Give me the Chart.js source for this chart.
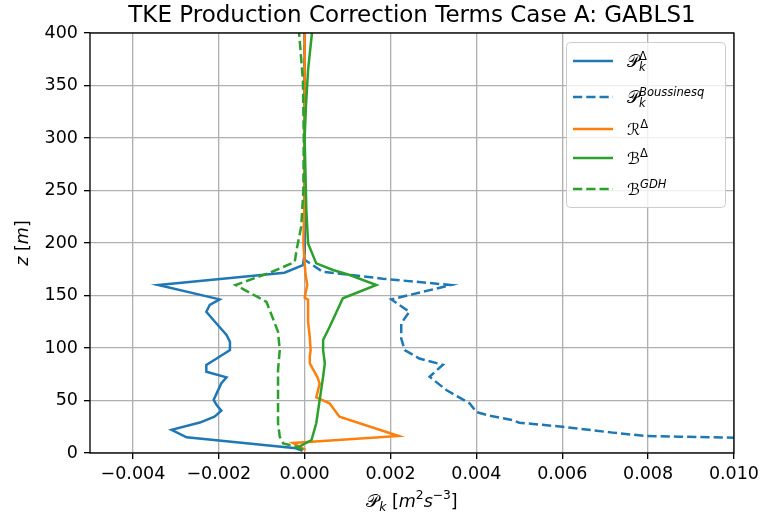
<!DOCTYPE html>
<html>
<head>
<meta charset="utf-8">
<script src="https://cdn.jsdelivr.net/npm/chart.js@4.4.1/dist/chart.umd.min.js"></script>
<style>
  html, body { margin: 0; padding: 0; background: #fff; }
  #wrap { width: 764px; height: 517px; position: relative; }
</style>
</head>
<body>
<div id="wrap"><canvas id="c"></canvas></div>
<script>
// --- datos (z en m, P en m^2 s^-3) ---
const zPDelta = [2, 4.5, 15, 22, 29, 34.6, 40.3, 45.7, 50.5, 56.8, 66.4, 72, 77.4, 83.8, 90, 98, 106, 112.4, 125, 134.5, 141, 146.3, 160, 171.7, 179, 190, 250, 300, 350, 400];
const pDelta  = [-0.00005, -0.0002, -0.00275, -0.0031, -0.00244, -0.0021, -0.00194, -0.00205, -0.00212, -0.00205, -0.00194, -0.00182, -0.00229, -0.00229, -0.00205, -0.00174, -0.00174, -0.00182, -0.00209, -0.00229, -0.00221, -0.00198, -0.00341, -0.00047, -0.00004, 0, 0, 0, 0, 0];

const zPBous = [14.6, 15.5, 16.2, 19.4, 25, 28.9, 31.4, 35.5, 39, 47.3, 60, 72.6, 84, 90, 98, 109, 123.5, 134.5, 146.3, 160, 166, 172.6, 184, 250, 300, 350, 400];
const pBous  = [0.01005, 0.00872, 0.00795, 0.00717, 0.006, 0.005, 0.00484, 0.0043, 0.004, 0.00384, 0.0033, 0.00291, 0.00322, 0.00267, 0.00233, 0.00225, 0.00225, 0.00244, 0.00202, 0.00341, 0.00182, 0.00042, 0.00000, 0, 0, 0, 0];

const zRDelta = [3, 9.5, 16.2, 34.6, 47.3, 53, 66, 72, 85.4, 92, 98, 110, 125, 146, 148, 160, 170, 181, 200, 250, 300, 350, 400];
const rDelta  = [0.00002, -0.00027, 0.00219, 0.00081, 0.00058, 0.00027, 0.00035, 0.0003, 0.00012, 0.00012, 0.00014, 0.00012, 0.00008, 0.00008, 0.0, 0.00006, 0.00002, 0, -0.00003, 0, 0, 0, 0];

const zBDelta = [4.5, 12.4, 28.3, 50.5, 72.6, 85.4, 98, 107.6, 120, 147.3, 160, 169.5, 174.3, 180.6, 199.6, 231, 300, 330, 365, 400];
const bDelta  = [-0.0002, 0.00016, 0.00027, 0.00035, 0.00043, 0.00047, 0.00043, 0.00043, 0.00058, 0.00089, 0.00167, 0.00105, 0.00066, 0.00027, 0.00008, 0.00004, 0.0, 0.00003, 0.00008, 0.00017];

const zBGdh = [3, 6, 9.2, 15.5, 28.3, 53.6, 79, 98, 115.5, 144, 160, 171.7, 182, 193, 215.6, 250, 300, 355, 400];
const bGdh  = [-0.00004, -0.00019, -0.0005, -0.00058, -0.00062, -0.00062, -0.00062, -0.00058, -0.00062, -0.00089, -0.00161, -0.00081, -0.00023, -0.00019, -0.00008, -0.00003, -0.00002, -0.00004, -0.00013];

const xTicksStep = 0.002;
const yTicksStep = 50;

const titleText = 'TKE Production Correction Terms Case A: GABLS1';

// etiquetas de la leyenda (base + sub/sup)
const legendLabels = [
  [{ t: '\u{1D4AB}', sub: 'k', subIt: true, sup: '\u0394' }],
  [{ t: '\u{1D4AB}', sub: 'k', subIt: true, sup: 'Boussinesq', supIt: true }],
  [{ t: '\u211B', sup: '\u0394' }],
  [{ t: '\u212C', sup: '\u0394' }],
  [{ t: '\u212C', sup: 'GDH', supIt: true }]
];
const xTitle = [
  { t: '\u{1D4AB}', sub: 'k', subIt: true },
  { t: ' [' }, { t: 'm', it: true, sup: '2' }, { t: 's', it: true, sup: '\u22123' }, { t: ']' }
];
const yTitle = [{ t: 'z', it: true }, { t: ' [' }, { t: 'm', it: true }, { t: ']' }];

const BLUE = '#1f77b4', ORANGE = '#ff7f0e', GREEN = '#2ca02c';
const LW = 2.5, DASH = [9.25, 4];
const FAM = '"DejaVu Sans", sans-serif';
const FS = 17.5;   // ticks / etiquetas
const FT = 23;     // titulo

const pts = (zs, xs) => zs.map((z, i) => ({ x: xs[i], y: z }));

function fnt(size, it){ return (it ? 'italic ' : '') + size + 'px ' + FAM; }

// dibuja texto con sub/superindices; devuelve ancho
function drawRich(ctx, toks, x, y, size, draw = true){
  let cx = x;
  const s = size * 0.7;
  for (const k of toks){
    ctx.font = fnt(size, k.it);
    if (draw) ctx.fillText(k.t, cx, y);
    const w = ctx.measureText(k.t).width;
    let ww = 0;
    if (k.sub){
      ctx.font = fnt(s, k.subIt);
      if (draw) ctx.fillText(k.sub, cx + w, y + size * 0.24);
      ww = Math.max(ww, ctx.measureText(k.sub).width);
    }
    if (k.sup){
      ctx.font = fnt(s, k.supIt);
      if (draw) ctx.fillText(k.sup, cx + w, y - size * 0.45);
      ww = Math.max(ww, ctx.measureText(k.sup).width);
    }
    cx += w + ww;
  }
  return cx - x;
}

const datasets = [
  { label: 'P_delta', data: pts(zPDelta, pDelta), borderColor: BLUE, borderDash: [] },
  { label: 'P_bous', data: pts(zPBous, pBous), borderColor: BLUE, borderDash: DASH },
  { label: 'R_delta', data: pts(zRDelta, rDelta), borderColor: ORANGE, borderDash: [] },
  { label: 'B_delta', data: pts(zBDelta, bDelta), borderColor: GREEN, borderDash: [] },
  { label: 'B_gdh', data: pts(zBGdh, bGdh), borderColor: GREEN, borderDash: DASH }
].map((d, i) => Object.assign(d, {
  showLine: true, pointRadius: 0, borderWidth: LW, tension: 0, fill: false, order: 10 - i
}));

// marco, titulos y leyenda
const decor = {
  id: 'decor',
  afterDatasetsDraw(chart){
    const { ctx, chartArea: a } = chart;
    ctx.save();
    ctx.strokeStyle = '#000';
    ctx.lineWidth = 1.33;
    ctx.strokeRect(a.left, a.top, a.right - a.left, a.bottom - a.top);
    ctx.restore();
  },
  afterDraw(chart){
    const { ctx, chartArea: a } = chart;
    const cx = (a.left + a.right) / 2;
    ctx.save();
    ctx.fillStyle = '#000';
    ctx.textBaseline = 'alphabetic';

    // titulo centrado sobre el area del grafico
    ctx.font = fnt(FT);
    ctx.textAlign = 'center';
    ctx.fillText(titleText, cx, 22);
    ctx.textAlign = 'left';

    // eje x
    const wx = drawRich(ctx, xTitle, 0, 0, FS, false);
    drawRich(ctx, xTitle, cx - wx / 2, 507, FS);

    // eje y
    ctx.save();
    ctx.translate(28, (a.top + a.bottom) / 2);
    ctx.rotate(-Math.PI / 2);
    const wy = drawRich(ctx, yTitle, 0, 0, FS, false);
    drawRich(ctx, yTitle, -wy / 2, 0, FS);
    ctx.restore();

    // leyenda
    const bx = 566.5, by = 42.5, bw = 159, bh = 165;
    ctx.beginPath();
    ctx.roundRect(bx, by, bw, bh, 4);
    ctx.fillStyle = 'rgba(255,255,255,0.8)';
    ctx.fill();
    ctx.strokeStyle = '#cccccc';
    ctx.lineWidth = 1;
    ctx.stroke();

    const rows = [61, 97, 129, 158, 189];
    chart.data.datasets.forEach((d, i) => {
      const y = rows[i];
      ctx.beginPath();
      ctx.setLineDash(d.borderDash);
      ctx.strokeStyle = d.borderColor;
      ctx.lineWidth = LW;
      ctx.moveTo(573, y);
      ctx.lineTo(613, y);
      ctx.stroke();
      ctx.setLineDash([]);
      ctx.fillStyle = '#000';
      drawRich(ctx, legendLabels[i], 627, y + 6, 16.5);
    });
    ctx.restore();
  }
};

new Chart(document.getElementById('c'), {
  type: 'scatter',
  data: { datasets },
  options: {
    responsive: true,
    maintainAspectRatio: false,
    animation: false,
    layout: { padding: { left: 0, right: 29, top: 33, bottom: 0 } },
    plugins: {
      legend: { display: false },
      tooltip: { enabled: false },
      title: { display: false }
    },
    scales: {
      x: {
        type: 'linear',
        min: -0.005, max: 0.010,
        afterFit(s){ s.height = 64; },
        border: { display: false },
        grid: { color: '#b0b0b0', lineWidth: 1.33, tickColor: '#000', tickWidth: 1.33, tickLength: 6 },
        ticks: {
          stepSize: xTicksStep, includeBounds: false, color: '#000', padding: 5, maxRotation: 0,
          font: { family: FAM, size: FS },
          callback: v => (v < -1e-9 ? '\u2212' : '') + Math.abs(v).toFixed(3)
        }
      },
      y: {
        type: 'linear',
        min: 0, max: 400,
        afterFit(s){ s.width = 90; },
        border: { display: false },
        grid: { color: '#b0b0b0', lineWidth: 1.33, tickColor: '#000', tickWidth: 1.33, tickLength: 6 },
        ticks: {
          stepSize: yTicksStep, color: '#000', padding: 6,
          font: { family: FAM, size: FS }
        }
      }
    }
  },
  plugins: [decor]
});
</script>
</body>
</html>
